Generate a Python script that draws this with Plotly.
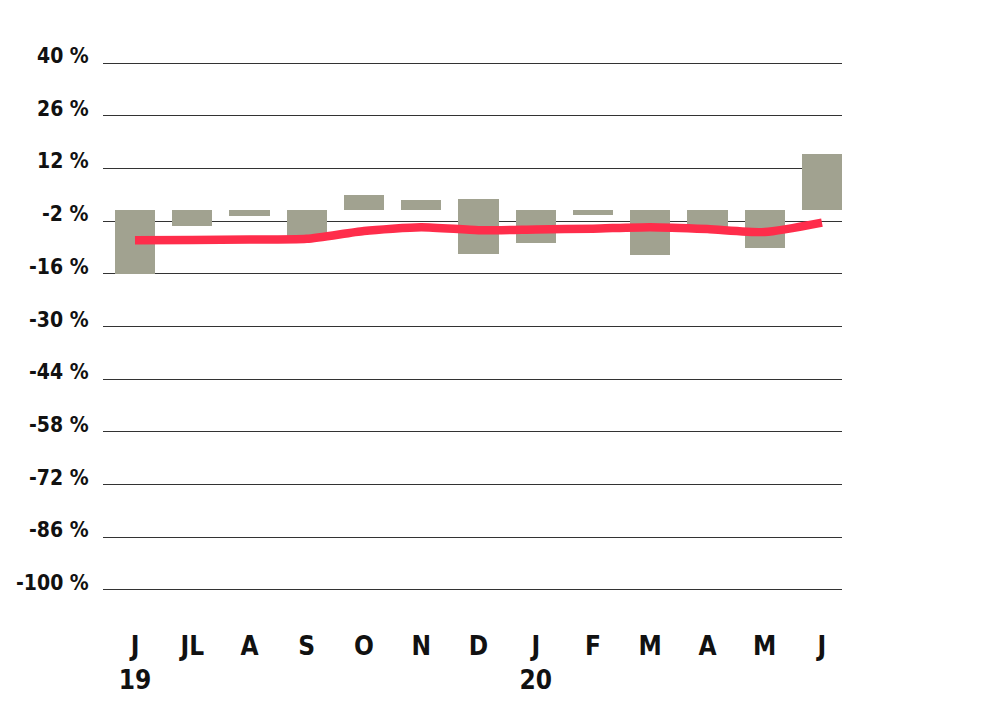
import plotly.graph_objects as go

months = ["J<br>19", "JL", "A", "S", "O", "N", "D", "J<br>20", "F", "M", "A", "M", "J"]
bar_low = [-16.1, -3.2, -0.6, -5.9, 1.0, 0.9, -10.8, -7.7, -0.25, -11.1, -3.8, -9.1, 1.0]
bar_high = [0.9, 0.9, 0.9, 0.9, 5.0, 3.6, 3.8, 0.9, 0.9, 0.9, 0.9, 0.9, 15.8]
line_vals = [-7.1, -7.0, -6.9, -6.7, -4.6, -3.6, -4.4, -4.2, -4.0, -3.6, -4.1, -4.9, -2.4]
y_ticks = [40, 26, 12, -2, -16, -30, -44, -58, -72, -86, -100]
y_labels = [f"{v} %" for v in y_ticks]

FONT = "DejaVu Sans Condensed"
xs = list(range(len(months)))

fig = go.Figure()
fig.add_trace(go.Bar(
    x=xs,
    y=[h - l for h, l in zip(bar_high, bar_low)],
    base=bar_low,
    width=0.70,
    marker=dict(color="#a1a290", line=dict(width=0)),
    hoverinfo="skip",
))
fig.add_trace(go.Scatter(
    x=xs, y=line_vals, mode="lines",
    line=dict(color="#ff2d4b", width=8.5, shape="spline", smoothing=0.6),
    hoverinfo="skip",
))

for v, t in zip(y_ticks, y_labels):
    fig.add_annotation(
        x=0, xref="paper", y=v, yref="y", text=f"<b>{t}</b>",
        showarrow=False, xanchor="right", yanchor="middle",
        xshift=-12, yshift=7,
        font=dict(family=FONT, size=21, color="#111"),
    )

fig.update_layout(
    width=1004, height=709,
    margin=dict(l=95, r=170, t=54, b=126),
    paper_bgcolor="white", plot_bgcolor="white",
    showlegend=False,
    bargap=0,
)
fig.update_xaxes(
    range=[-0.559, 12.35],
    tickvals=xs, ticktext=[f"<b>{m}</b>" for m in months],
    tickfont=dict(family=FONT, size=26, color="#111"),
    showgrid=False, zeroline=False, showline=False,
    ticks="", ticklabelstandoff=37,
)
fig.update_yaxes(
    range=[-100.3, 40.3],
    tickvals=y_ticks, showticklabels=False,
    showgrid=True, gridcolor="#333", gridwidth=1.3,
    zeroline=False, showline=False, ticks="",
)

fig.write_html("out.html")
